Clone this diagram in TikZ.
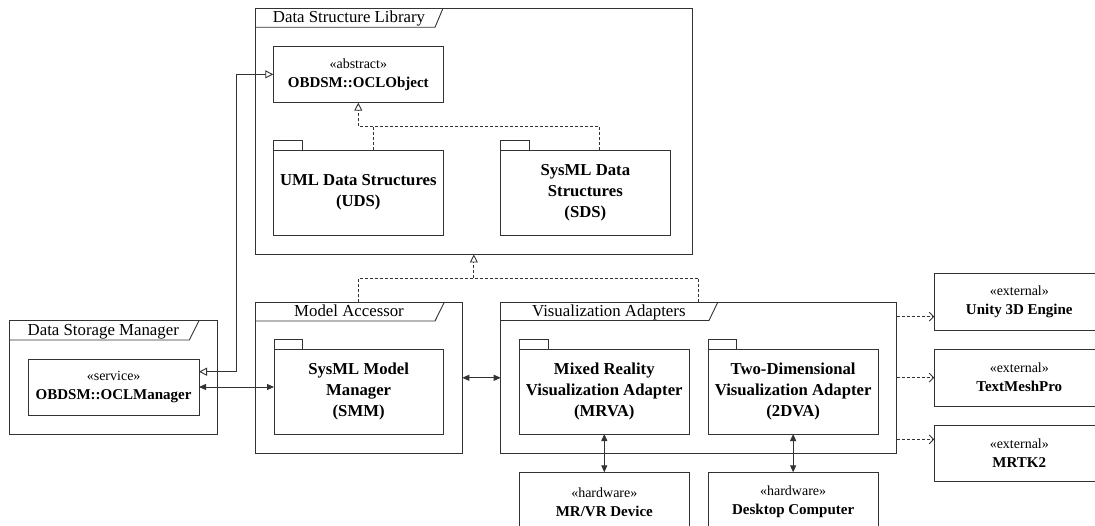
\documentclass[tikz,border=0pt]{standalone}
\usepackage{fontspec}
\setmainfont{Liberation Serif}
\usetikzlibrary{arrows.meta,calc}
\newcommand\mystereo[1]{{\fontsize{14}{19}\selectfont «#1»}}
\newcommand\myframetab[5]{%
  \draw[line] ([yshift=-#2pt]#1.north west) -- ++(#3,0) -- ([xshift=#4pt]#1.north west);
  \node[ttl, anchor=base] at ($(#1.north west)+({(#3+8)/2},#2-4.3)$) {#5};
}
\begin{document}
\begin{tikzpicture}[x=1pt,y=-1pt,
  line/.style={draw=black!80, line width=0.9pt},
  box/.style={line, rectangle, inner sep=0pt, outer sep=0pt, anchor=north west, align=center},
  frame/.style={box},
  pkg/.style={box, font=\fontsize{16.7}{21.2}\selectfont\bfseries},
  cls/.style={box, font=\fontsize{15}{19}\selectfont},
  ttl/.style={font=\fontsize{16.8}{20}\selectfont, inner sep=0pt},
  both/.style={line, {Triangle[length=7pt,width=6pt]}-{Triangle[length=7pt,width=6pt]}},
  gentwo/.style={line, {Triangle[open,length=8pt,width=8pt]}-{Triangle[open,length=8pt,width=8pt]}},
  dsh/.style={line, dash pattern=on 3pt off 2pt},
  realz/.style={dsh, -{Triangle[open,length=8pt,width=8pt]}},
  dep/.style={dsh, -{Straight Barb[length=4.5pt,width=9pt]}},
  pkgtab/.style={line}
]
\fill[white] (0,0) rectangle (1095,526);
\useasboundingbox (0,0) rectangle (1095,526);
\clip (0,0) rectangle (1095,526);

% frames
\node[frame, minimum width=437.7pt, minimum height=246.2pt] (dsl) at (255,8.3) {};
\myframetab{dsl}{19}{180}{188}{Data Structure Library}
\node[frame, minimum width=207.3pt, minimum height=151pt] (ma) at (255,302.3) {};
\myframetab{ma}{18.7}{180}{189.3}{Model Accessor}
\node[frame, minimum width=208pt, minimum height=113.6pt] (dsm) at (9.3,320.7) {};
\myframetab{dsm}{19.3}{180}{189.7}{Data Storage Manager}
\node[frame, minimum width=395.8pt, minimum height=151pt] (va) at (500.7,302.3) {};
\myframetab{va}{18.2}{208.3}{217}{Visualization Adapters}

% classes and packages
\node[cls, minimum width=170pt, minimum height=56.7pt] (oclobj) at (273.3,46) {\mystereo{abstract}\\\textbf{OBDSM::OCLObject}};
\node[pkg, minimum width=170pt, minimum height=85.3pt] (uds) at (273.3,150) {UML Data Structures\\(UDS)};
\draw[pkgtab] (uds.north west) rectangle ++(28.7,-10);
\node[pkg, minimum width=169.3pt, minimum height=85.3pt] (sds) at (500.7,150) {SysML Data\\Structures\\(SDS)};
\draw[pkgtab] (sds.north west) rectangle ++(28.7,-10);
\node[pkg, minimum width=169.3pt, minimum height=84.7pt] (smm) at (274,349.3) {SysML Model\\Manager\\(SMM)};
\draw[pkgtab] (smm.north west) rectangle ++(28.7,-10);
\node[cls, minimum width=170.7pt, minimum height=56pt] (oclmgr) at (28.3,359) {\mystereo{service}\\\textbf{OBDSM::OCLManager}};
\node[pkg, minimum width=170pt, minimum height=84.7pt] (mrva) at (519.3,349.3) {Mixed Reality\\Visualization Adapter\\(MRVA)};
\draw[pkgtab] (mrva.north west) rectangle ++(28.7,-10);
\node[pkg, minimum width=170.3pt, minimum height=84.7pt] (tdva) at (708,349.3) {Two-Dimensional\\Visualization Adapter\\(2DVA)};
\draw[pkgtab] (tdva.north west) rectangle ++(28.7,-10);
\node[cls, minimum width=170pt, minimum height=59pt] (mrvr) at (519.3,472.3) {\mystereo{hardware}\\\textbf{MR/VR Device}};
\node[cls, minimum width=170.3pt, minimum height=59pt] (desk) at (708,472.3) {\mystereo{hardware}\\\textbf{Desktop Computer}};
\node[cls, minimum width=170pt, minimum height=56.7pt] (unity) at (934.3,273.3) {\mystereo{external}\\\textbf{Unity 3D Engine}};
\node[cls, minimum width=170pt, minimum height=56.7pt] (tmp) at (934.3,349.3) {\mystereo{external}\\\textbf{TextMeshPro}};
\node[cls, minimum width=170pt, minimum height=56.7pt] (mrtk) at (934.3,425) {\mystereo{external}\\\textbf{MRTK2}};

% connectors
\coordinate (bend) at (236,371.7);
\draw[gentwo] (oclobj.west) -| (bend) -- (bend -| oclmgr.east);
\draw[both] (oclmgr.east) -- (oclmgr.east -| smm.west);
\draw[both] (ma.east) -- (ma.east -| va.west);
\draw[both] (mrva.south) -- (mrvr.north);
\draw[both] (tdva.south) -- (desk.north);

\coordinate (u1) at ([yshift=-15pt]unity.west);
\draw[dep] (va.east |- u1) -- (u1);
\draw[dep] (va.east |- tmp.west) -- (tmp.west);
\coordinate (m1) at ([yshift=14pt]mrtk.west);
\draw[dep] (va.east |- m1) -- (m1);

\coordinate (j1) at (0,126.3);
\draw[realz] ([xshift=14pt]sds.north) |- (oclobj.south |- j1) -- (oclobj.south);
\draw[dsh] ([xshift=14.7pt]uds.north) -- ([xshift=14.7pt]uds.north |- j1);
\coordinate (j2) at (0,278.3);
\draw[dsh] (ma.north) |- (va.north |- j2) -- (va.north);
\draw[realz] (dsl.south |- j2) -- (dsl.south);
\end{tikzpicture}
\end{document}
